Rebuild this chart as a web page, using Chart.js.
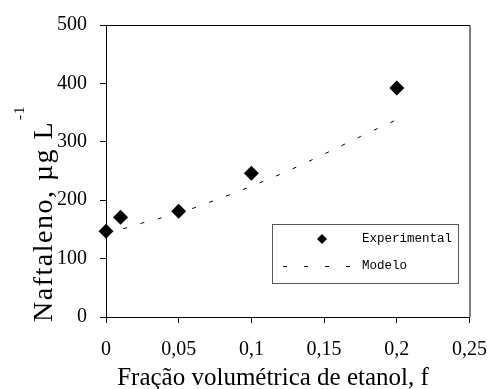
<!DOCTYPE html>
<html>
<head>
<meta charset="utf-8">
<script src="https://cdn.jsdelivr.net/npm/chart.js@4.4.1/dist/chart.umd.min.js"></script>
<style>
  html, body { margin: 0; padding: 0; background: #fff; }
</style>
</head>
<body>
<canvas id="grafico" width="502" height="389"></canvas>
<script>
// dados
const fracoes = [0, 0.01, 0.05, 0.1, 0.2];
const naftaleno = [147, 171, 181, 246, 392];
const fracoesModelo = [0, 0.025, 0.05, 0.075, 0.1, 0.125, 0.15, 0.175, 0.2];
const naftalenoModelo = [142, 161, 178, 200, 224, 250, 279, 309, 338];
const xTicks = [0, 0.05, 0.1, 0.15, 0.2, 0.25];
const yTicks = [0, 100, 200, 300, 400, 500];
const xTitulo = 'Fração volumétrica de etanol, f';
const yTitulo = 'Naftaleno, µg L';
const ySobrescrito = '-1';

const serif = '"Liberation Serif", "Times New Roman", serif';
const mono = '"Liberation Mono", "Courier New", monospace';

// moldura (linhas de cima e da direita)
const moldura = {
  id: 'moldura',
  afterDraw(chart) {
    const { ctx, chartArea: a } = chart;
    ctx.save();
    ctx.strokeStyle = '#000';
    ctx.lineWidth = 1;
    ctx.beginPath();
    ctx.moveTo(a.left, a.top + 0.5);
    ctx.lineTo(a.right + 0.5, a.top + 0.5);
    ctx.lineTo(a.right + 0.5, a.bottom);
    ctx.stroke();
    ctx.restore();
  }
};

// títulos dos eixos (com sobrescrito no eixo y)
const titulos = {
  id: 'titulos',
  afterDraw(chart) {
    const { ctx } = chart;
    ctx.save();
    ctx.fillStyle = '#000';
    ctx.font = '25px ' + serif;
    ctx.textAlign = 'center';
    ctx.textBaseline = 'alphabetic';
    ctx.fillText(xTitulo, 273, 385);

    ctx.translate(52, 322);
    ctx.rotate(-Math.PI / 2);
    ctx.textAlign = 'left';
    ctx.font = '28px ' + serif;
    ctx.letterSpacing = '1.5px';
    ctx.fillText(yTitulo, 0, 0);
    const w = ctx.measureText(yTitulo).width;
    ctx.font = '15px ' + serif;
    ctx.letterSpacing = '1px';
    ctx.fillText(ySobrescrito, w + 1, -28);
    ctx.restore();
  }
};

// legenda desenhada dentro da área do gráfico
const legenda = {
  id: 'legenda',
  afterDraw(chart) {
    const { ctx } = chart;
    const ds = chart.data.datasets;
    ctx.save();
    ctx.fillStyle = '#fff';
    ctx.fillRect(272, 224, 186, 59);
    ctx.strokeStyle = '#555';
    ctx.lineWidth = 1;
    ctx.strokeRect(272.5, 224.5, 186, 59);

    ctx.fillStyle = '#000';
    ctx.beginPath();
    ctx.moveTo(322, 234);
    ctx.lineTo(327, 239);
    ctx.lineTo(322, 244);
    ctx.lineTo(317, 239);
    ctx.closePath();
    ctx.fill();

    ctx.strokeStyle = '#000';
    ctx.setLineDash([4, 17]);
    ctx.beginPath();
    ctx.moveTo(283, 266.5);
    ctx.lineTo(350, 266.5);
    ctx.stroke();
    ctx.setLineDash([]);

    ctx.font = '12.5px ' + mono;
    ctx.textAlign = 'left';
    ctx.textBaseline = 'middle';
    ctx.fillText(ds[0].label, 362, 239);
    ctx.fillText(ds[1].label, 362, 266);
    ctx.restore();
  }
};

const fmt = v => String(v).replace('.', ',');

new Chart(document.getElementById('grafico'), {
  type: 'scatter',
  data: {
    datasets: [
      {
        label: 'Experimental',
        data: fracoes.map((f, i) => ({ x: f, y: naftaleno[i] })),
        pointStyle: 'rectRot',
        pointRadius: 7.5,
        pointHoverRadius: 7.5,
        backgroundColor: '#000',
        borderColor: '#000',
        borderWidth: 0,
        clip: false,
        order: 0
      },
      {
        label: 'Modelo',
        data: fracoesModelo.map((f, i) => ({ x: f, y: naftalenoModelo[i] })),
        showLine: true,
        pointRadius: 0,
        borderColor: '#000',
        borderWidth: 1,
        borderDash: [4, 14],
        cubicInterpolationMode: 'monotone',
        clip: false,
        order: 1
      }
    ]
  },
  options: {
    responsive: false,
    animation: false,
    layout: { padding: { top: 24, right: 22, left: 0, bottom: 0 } },
    plugins: {
      legend: { display: false },
      tooltip: { enabled: false }
    },
    scales: {
      x: {
        type: 'linear',
        min: 0,
        max: 0.25,
        afterBuildTicks: s => { s.ticks = xTicks.map(v => ({ value: v })); },
        afterFit: s => { s.height = 72; },
        grid: { drawOnChartArea: false, drawTicks: true, tickLength: 6, color: '#000' },
        border: { display: true, color: '#000', width: 1 },
        ticks: {
          color: '#000',
          font: { family: serif, size: 20 },
          padding: 15,
          maxRotation: 0,
          callback: v => fmt(v)
        }
      },
      y: {
        min: 0,
        max: 500,
        afterBuildTicks: s => { s.ticks = yTicks.map(v => ({ value: v })); },
        afterFit: s => { s.width = 106; },
        grid: { drawOnChartArea: false, drawTicks: true, tickLength: 6, color: '#000' },
        border: { display: true, color: '#000', width: 1 },
        ticks: {
          color: '#000',
          font: { family: serif, size: 20 },
          padding: 13,
          callback: v => fmt(v)
        }
      }
    }
  },
  plugins: [moldura, titulos, legenda]
});
</script>
</body>
</html>
